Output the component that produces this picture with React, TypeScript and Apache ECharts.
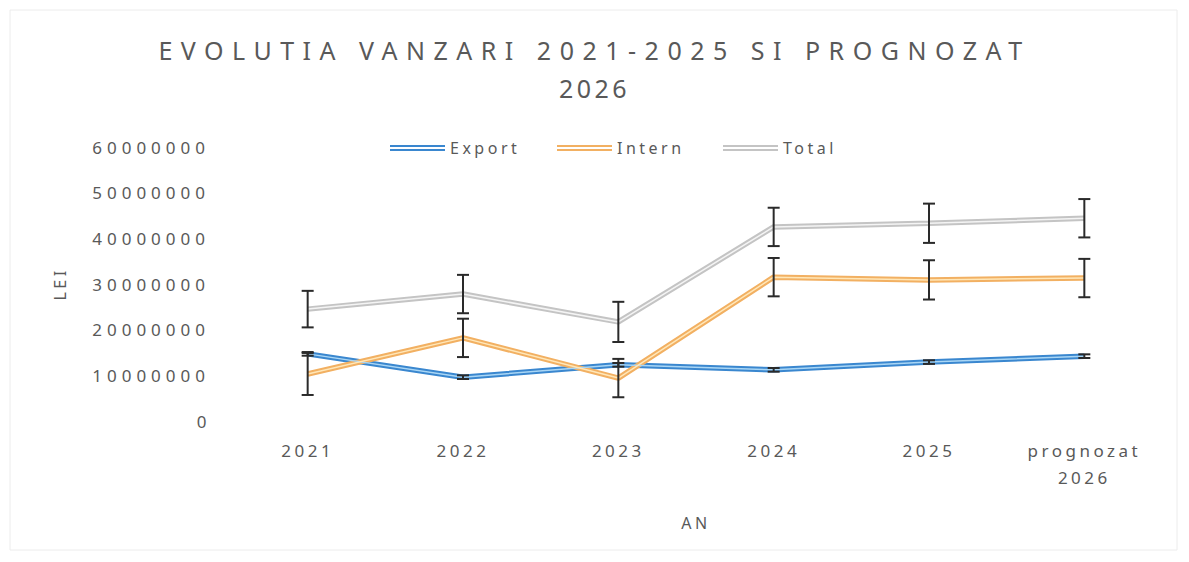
import React, { useEffect, useRef } from "react";
import * as echarts from "echarts";

const categories = ["2021", "2022", "2023", "2024", "2025", "prognozat\n2026"];
const exportValues = [14700000, 9600000, 12300000, 11200000, 12900000, 14200000];
const internValues = [10300000, 18200000, 9400000, 31500000, 30900000, 31300000];
const totalValues = [24500000, 27800000, 21700000, 42500000, 43300000, 44400000];
const exportErrors = [400000, 400000, 400000, 400000, 400000, 400000];
const internErrors = [4600000, 4200000, 4200000, 4200000, 4300000, 4200000];
const totalErrors = [4000000, 4200000, 4400000, 4200000, 4300000, 4200000];
const yTicks = { min: 0, max: 60000000, interval: 10000000 };

const TXT = "#595959";
const FONT = "Noto Sans";

export default function App() {
  const ref = useRef<HTMLDivElement>(null);
  useEffect(() => {
    if (!ref.current) return;
    const chart = echarts.init(ref.current, undefined, { renderer: "svg" });

    const errData = (vals: number[], errs: number[]) =>
      vals.map((v, i) => [i, v - errs[i], v + errs[i]]);

    const errSeries = (name: string, vals: number[], errs: number[], color: string) => ({
      type: "custom",
      name: name + " err",
      z: 10,
      encode: { x: 0, y: [1, 2] },
      data: errData(vals, errs),
      renderItem: (params: any, api: any) => {
        const x = api.value(0);
        const p1 = api.coord([x, api.value(1)]);
        const p2 = api.coord([x, api.value(2)]);
        const hw = 6;
        const st = { stroke: color, lineWidth: 2 };
        return {
          type: "group",
          children: [
            { type: "line", shape: { x1: p1[0], y1: p1[1], x2: p2[0], y2: p2[1] }, style: st },
            { type: "line", shape: { x1: p1[0] - hw, y1: p1[1], x2: p1[0] + hw, y2: p1[1] }, style: st },
            { type: "line", shape: { x1: p2[0] - hw, y1: p2[1], x2: p2[0] + hw, y2: p2[1] }, style: st },
          ],
        };
      },
    });

    const mainLine = (name: string, vals: number[], color: string) => ({
      type: "line",
      name,
      data: vals,
      symbol: "none",
      showSymbol: false,
      z: 3,
      lineStyle: { color, width: 5.5 },
      itemStyle: { color },
    });
    const innerLine = (name: string, vals: number[], color: string) => ({
      type: "line",
      name: name + " inner",
      data: vals,
      symbol: "none",
      showSymbol: false,
      z: 4,
      lineStyle: { color, width: 1.5 },
      itemStyle: { color },
    });

    const legendBase = {
      top: 127,
      itemWidth: 55,
      itemHeight: 6,
      icon: "path://M0,0h55v2h-55z M0,4h55v2h-55z",
      textStyle: { color: TXT, fontSize: 16, fontFamily: FONT },
    };

    chart.setOption({
      animation: false,
      backgroundColor: "#ffffff",
      title: {
        text: "EVOLUTIA VANZARI 2021-2025 SI PROGNOZAT\n2026",
        left: "center",
        top: 23,
        padding: 0,
        textStyle: {
          color: TXT,
          fontSize: 25,
          fontWeight: "normal",
          fontFamily: FONT,
          lineHeight: 38,
        },
      },
      legend: [
        { ...legendBase, left: 377, data: ["Export"] },
        { ...legendBase, left: 544, data: ["Intern"] },
        { ...legendBase, left: 710, data: ["Total"] },
      ],
      grid: { left: 222, right: 19, top: 139, bottom: 133 },
      xAxis: {
        type: "category",
        data: categories,
        boundaryGap: true,
        name: "AN",
        nameLocation: "middle",
        nameGap: 94,
        nameTextStyle: { color: TXT, fontSize: 16, fontFamily: FONT },
        axisLine: { show: false },
        axisTick: { show: false },
        axisLabel: { color: TXT, fontSize: 17, fontFamily: FONT, margin: 16, lineHeight: 27 },
        splitLine: { show: false },
      },
      yAxis: {
        type: "value",
        min: yTicks.min,
        max: yTicks.max,
        interval: yTicks.interval,
        name: "LEI",
        nameLocation: "middle",
        nameRotate: 90,
        nameGap: 162,
        nameTextStyle: { color: TXT, fontSize: 16, fontFamily: FONT },
        axisLine: { show: false },
        axisTick: { show: false },
        axisLabel: {
          color: TXT,
          fontSize: 17,
          fontFamily: FONT,
          margin: 20,
          formatter: (v: number) => String(v),
        },
        splitLine: { show: false },
      },
      graphic: [
        {
          type: "rect",
          shape: { x: 2, y: 2, width: 1167, height: 540 },
          style: { fill: "none", stroke: "#ececec", lineWidth: 1 },
          silent: true,
          z: -10,
        },
      ],
      series: [
        mainLine("Export", exportValues, "#3A87CF"),
        innerLine("Export", exportValues, "#A9D6F5"),
        mainLine("Intern", internValues, "#F2B062"),
        innerLine("Intern", internValues, "#FFE7B8"),
        mainLine("Total", totalValues, "#C4C4C4"),
        innerLine("Total", totalValues, "#F4F4F4"),
        errSeries("Export", exportValues, exportErrors, "#2a2a2a"),
        errSeries("Intern", internValues, internErrors, "#2a2a2a"),
        errSeries("Total", totalValues, totalErrors, "#2a2a2a"),
      ],
    });

    // widen letter spacing to mimic the scanned original
    const texts = ref.current.querySelectorAll("text");
    texts.forEach((t) => {
      const s = t.textContent || "";
      const el = t as unknown as HTMLElement;
      if (s.indexOf("EVOLUTIA") >= 0) {
        el.style.letterSpacing = "8.5px";
      } else if (/^\d{2,}$/.test(s) && s.length > 4) {
        el.style.letterSpacing = "5px";
      } else {
        el.style.letterSpacing = "3.5px";
      }
    });

    return () => chart.dispose();
  }, []);
  return <div ref={ref} style={{ width: 1173, height: 546 }} />;
}
